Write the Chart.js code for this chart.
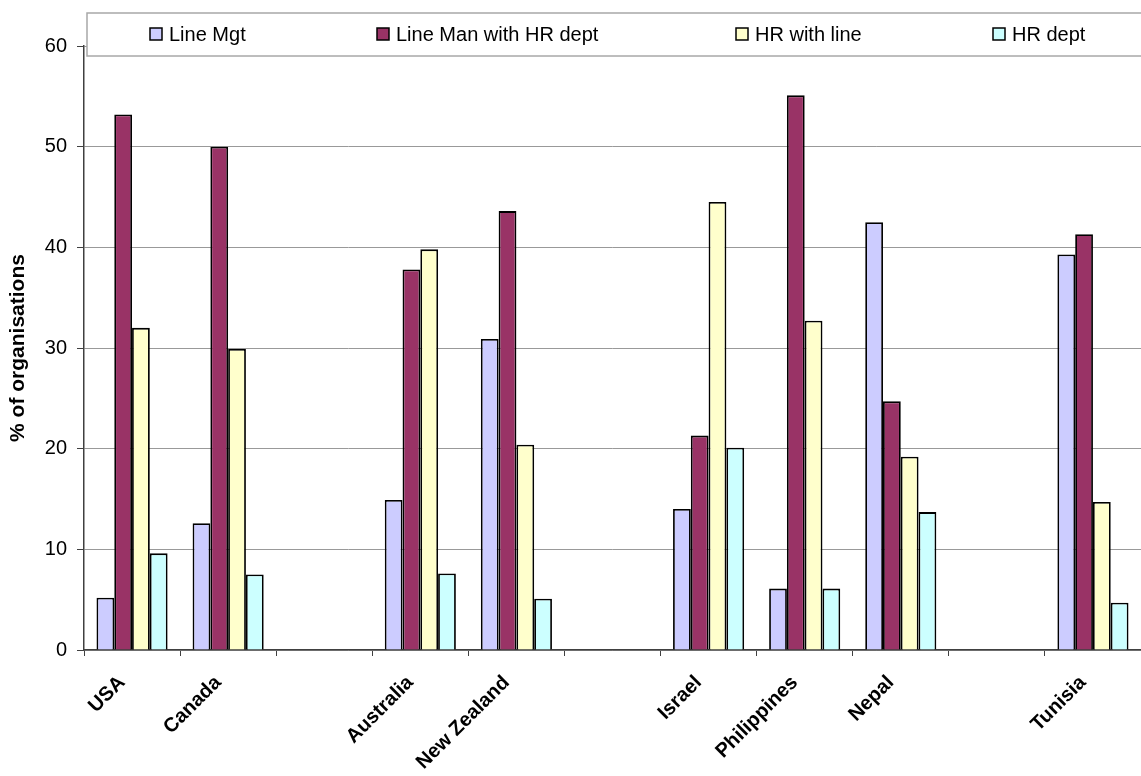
<!DOCTYPE html>
<html>
<head>
<meta charset="utf-8">
<script src="https://cdn.jsdelivr.net/npm/chart.js@4"></script>
<style>
  html, body { margin: 0; padding: 0; background: #fff; }
  #wrap { width: 1141px; height: 776px; position: relative; }
</style>
</head>
<body>
<div id="wrap"><canvas id="org-chart"></canvas></div>
<script>
// categories (blank slots are kept as in the original chart)
var countries = ["USA", "Canada", "", "Australia", "New Zealand", "", "Israel", "Philippines", "Nepal", "", "Tunisia"];

var lineMgt      = [5.2, 12.6, null, 14.9, 30.9, null, 14.0, 6.1, 42.5, null, 39.3];
var lineManHR    = [53.2, 50.0, null, 37.8, 43.6, null, 21.3, 55.1, 24.7, null, 41.3];
var hrWithLine   = [32.0, 29.9, null, 39.8, 20.4, null, 44.5, 32.7, 19.2, null, 14.7];
var hrDept       = [9.6, 7.5, null, 7.6, 5.1, null, 20.1, 6.1, 13.7, null, 4.7];

var seriesNames = ["Line Mgt", "Line Man with HR dept", "HR with line", "HR dept"];
var yTicks = [0, 10, 20, 30, 40, 50, 60];

var colours = ["#CCCCFF", "#993366", "#FFFFCC", "#CCFFFF"];
var FONT = "Arial, 'Liberation Sans', sans-serif";

// legend drawn as a box laid over the top of the plot, like the original
var boxLegend = {
    id: "boxLegend",
    afterDraw: function(chart) {
        var ctx = chart.ctx;
        ctx.save();
        ctx.fillStyle = "#fff";
        ctx.fillRect(87, 13, 1060, 43);
        ctx.strokeStyle = "#a8a8a8";
        ctx.lineWidth = 1.5;
        ctx.strokeRect(87, 13, 1060, 43);
        var xs = [150, 377, 736, 993]; // x of each legend square
        ctx.font = "20px " + FONT;
        ctx.textBaseline = "middle";
        chart.data.datasets.forEach(function(ds, i) {
            ctx.fillStyle = ds.backgroundColor;
            ctx.fillRect(xs[i], 28, 12, 12);
            ctx.strokeStyle = "#000";
            ctx.lineWidth = 1.5;
            ctx.strokeRect(xs[i], 28, 12, 12);
            ctx.fillStyle = "#000";
            ctx.fillText(ds.label, xs[i] + 19, 35);
        });
        ctx.restore();
    }
};

var ctx = document.getElementById("org-chart").getContext("2d");
var chart = new Chart(ctx, {
    type: "bar",
    data: {
        labels: countries,
        datasets: [lineMgt, lineManHR, hrWithLine, hrDept].map(function(vals, i) {
            return {
                label: seriesNames[i],
                data: vals,
                backgroundColor: colours[i],
                borderColor: "#000",
                borderWidth: 1.8,
                borderSkipped: "bottom",
                barPercentage: 1,
                categoryPercentage: 0.74
            };
        })
    },
    options: {
        responsive: true,
        maintainAspectRatio: false,
        animation: false,
        layout: { padding: { top: 46, right: 0, left: 0, bottom: 0 } },
        plugins: {
            legend: { display: false },
            tooltip: { enabled: false }
        },
        scales: {
            x: {
                grid: { display: true, drawOnChartArea: false, drawTicks: true, tickLength: 6, color: "#404040", offset: true },
                border: { color: "#404040", width: 1.5 },
                ticks: {
                    autoSkip: false,
                    minRotation: 45,
                    maxRotation: 45,
                    color: "#000",
                    padding: 15,
                    labelOffset: -10,
                    font: { family: FONT, size: 20, weight: "bold" }
                },
                afterFit: function(s) { s.height = 126; }
            },
            y: {
                min: 0,
                max: 60,
                afterBuildTicks: function(s) { s.ticks = yTicks.map(function(v) { return { value: v }; }); },
                grid: { color: "#999", tickLength: 7, tickColor: "#404040" },
                border: { color: "#404040", width: 1.5 },
                ticks: { color: "#000", padding: 10, font: { family: FONT, size: 20 } },
                title: {
                    display: true,
                    text: "% of organisations",
                    color: "#000",
                    padding: { top: 6, bottom: 0 },
                    font: { family: FONT, size: 21, weight: "bold" }
                },
                afterFit: function(s) { s.width = 84; }
            }
        }
    },
    plugins: [boxLegend]
});
</script>
</body>
</html>
